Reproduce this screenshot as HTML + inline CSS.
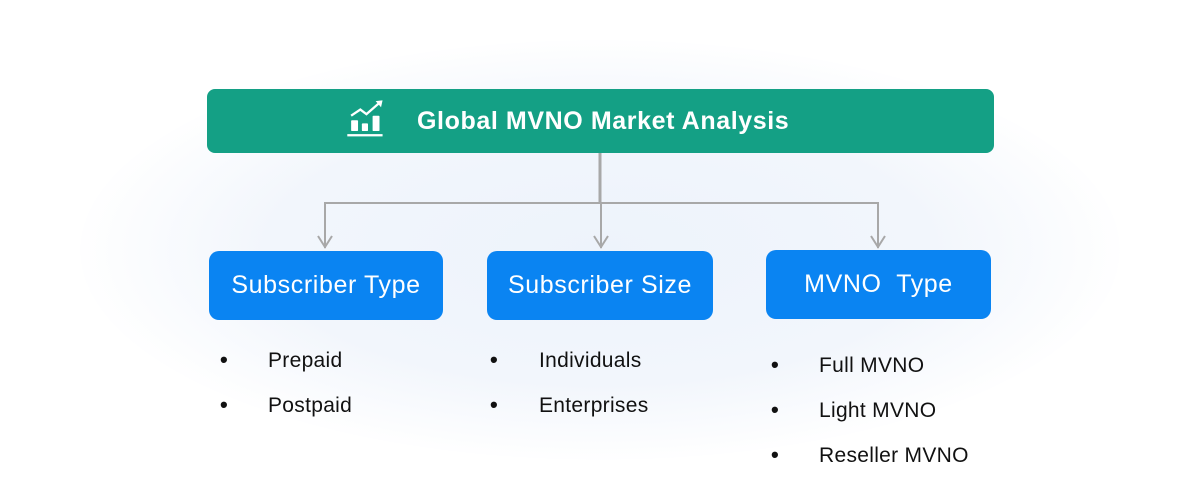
<!DOCTYPE html>
<html><head><meta charset="utf-8"><style>
html,body{margin:0;padding:0;}
body{width:1200px;height:488px;position:relative;overflow:hidden;background:#fff;font-family:"Liberation Sans",sans-serif;}
.glow{position:absolute;left:80px;top:40px;width:1040px;height:420px;border-radius:50%;background:radial-gradient(ellipse at center,#edf3fb 0%,#f2f6fc 45%,rgba(255,255,255,0) 72%);}
.hdr{position:absolute;left:207px;top:89px;width:787px;height:64px;background:#14a085;border-radius:8px;}
.hdr .t{position:absolute;left:210px;top:18px;color:#fff;font-weight:bold;font-size:25px;letter-spacing:0.6px;}
.box{position:absolute;background:#0a84f2;border-radius:10px;color:#fff;font-size:25px;letter-spacing:0.6px;text-align:center;height:69px;line-height:69px;}
.li{position:absolute;font-size:21px;color:#111;letter-spacing:0.3px;}
.b{position:absolute;font-size:22px;font-weight:bold;color:#111;}
</style></head><body>
<div class="glow"></div>
<div class="hdr">
<svg style="position:absolute;left:138px;top:8px" width="46" height="42" viewBox="0 0 60 50">
<polyline points="8,22 20,14 28,20 44,6" fill="none" stroke="#fff" stroke-width="3"/>
<polygon points="40,3 49,2 47,11" fill="#fff"/>
<rect x="8" y="28" width="9" height="14" rx="1" fill="#fff"/>
<rect x="22" y="32" width="8" height="10" rx="1" fill="#fff"/>
<rect x="36" y="22" width="9" height="20" rx="1" fill="#fff"/>
<rect x="3" y="46" width="46" height="3" fill="#fff"/>
</svg>
<div class="t">Global MVNO Market Analysis</div>
</div>
<svg style="position:absolute;left:0;top:0" width="1200" height="488">
<g stroke="#a8a8a8" fill="none" stroke-width="2">
<line x1="600" y1="153" x2="600" y2="203" stroke-width="3"/>
<polyline points="325,248 325,203 878,203 878,248"/>
<line x1="601" y1="203" x2="601" y2="248"/>
<polyline points="318,236 325,247 332,236"/>
<polyline points="594,236 601,247 608,236"/>
<polyline points="871,236 878,247 885,236"/>
</g></svg>
<div class="box" style="left:209px;top:251px;width:234px;">Subscriber Type</div>
<div class="box" style="left:487px;top:251px;width:226px;">Subscriber Size</div>
<div class="box" style="left:766px;top:250px;width:225px;">MVNO&nbsp; Type</div>
<div class="b" style="left:220px;top:347px">•</div><div class="li" style="left:268px;top:349px">Prepaid</div>
<div class="b" style="left:220px;top:392px">•</div><div class="li" style="left:268px;top:394px">Postpaid</div>
<div class="b" style="left:490px;top:347px">•</div><div class="li" style="left:539px;top:349px">Individuals</div>
<div class="b" style="left:490px;top:392px">•</div><div class="li" style="left:539px;top:394px">Enterprises</div>
<div class="b" style="left:771px;top:352px">•</div><div class="li" style="left:819px;top:354px">Full MVNO</div>
<div class="b" style="left:771px;top:397px">•</div><div class="li" style="left:819px;top:399px">Light MVNO</div>
<div class="b" style="left:771px;top:442px">•</div><div class="li" style="left:819px;top:444px">Reseller MVNO</div>
</body></html>
